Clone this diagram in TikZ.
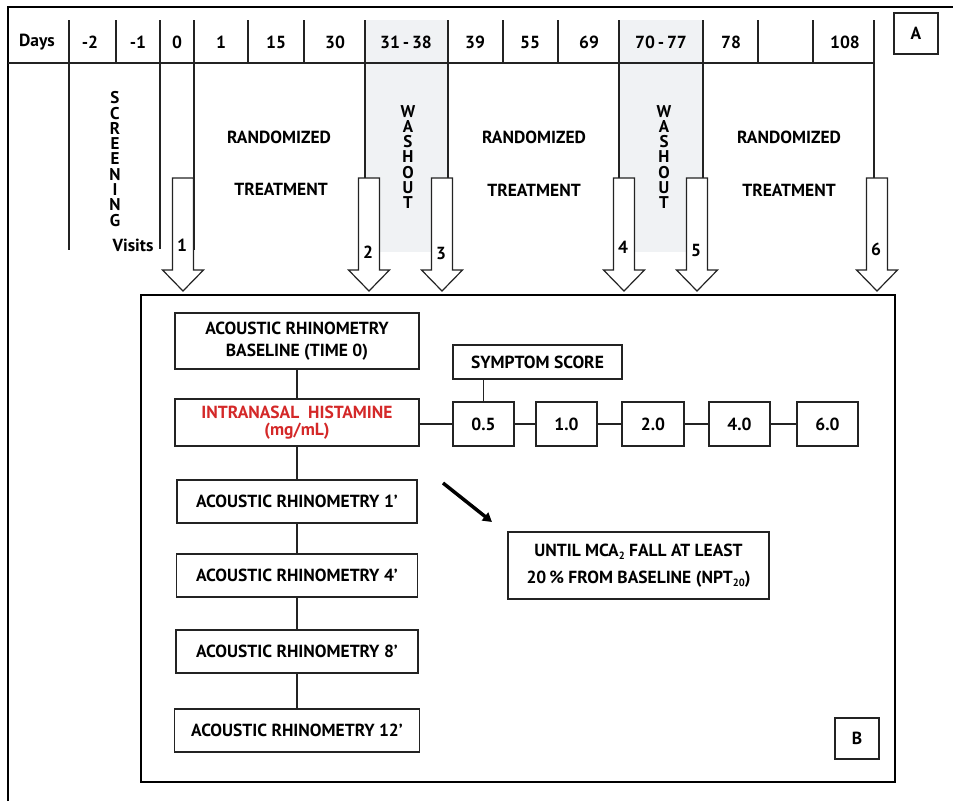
\documentclass[tikz,border=0pt]{standalone}
\usepackage{fontspec}
\setmainfont{PT Sans}
\usetikzlibrary{arrows.meta}
\definecolor{wash}{RGB}{240,242,244}
\definecolor{histred}{RGB}{212,40,40}
\definecolor{linegray}{RGB}{35,35,35}
\newcommand{\lowsub}[1]{\raisebox{-0.4ex}{\fontsize{10.5}{10.5}\selectfont #1}}
\begin{document}
\begin{tikzpicture}[x=1pt,y=-1pt,
  every node/.style={font=\bfseries\fontsize{17.5}{20}\selectfont, text=black},
  gridline/.style={line width=1.4pt, draw=linegray},
  frameline/.style={line width=2.6pt, draw=black},
  box/.style={draw=linegray, line width=1.2pt, fill=white, inner sep=0pt, align=center},
  blockarrow/.style={draw=linegray, line width=1.2pt, fill=white, line join=miter},
  vlet/.style={align=center, inner sep=0pt, font=\bfseries\fontsize{17}{15.3}\selectfont},
  conn/.style={draw=linegray, line width=1.2pt}]
\useasboundingbox (0,0) rectangle (953,801);

% washout shading
\fill[wash] (365,20) rectangle (448,252);
\fill[wash] (619,20) rectangle (703,252);

% outer frame (top and left)
\draw[frameline] (8,801) -- (8,7) -- (953,7);

% header row
\draw[gridline] (8,63) -- (875,63);
\foreach \x in {69,116,160,194,248,304,365,448,503,558,619,703,758,813,874}
  \draw[gridline] (\x,20) -- (\x,63);
% long lines
\draw[gridline] (69,63) -- (69,250);
\draw[gridline] (160,63) -- (160,249);
\foreach \x in {365,448,619,703,874}
  \draw[gridline] (\x,63) -- (\x,178);

% header labels
\node (days) at (37,42) {Days};
\node (dm2) at (90,42) {-2};
\node (dm1) at (138,42) {-1};
\node (d0) at (177,42) {0};
\node (d1) at (221,42) {1};
\node (d15) at (276,42) {15};
\node (d30) at (335,42) {30};
\node (d31) at (406,42) {31\,-\,38};
\node (d39) at (475,42) {39};
\node (d55) at (530,42) {55};
\node (d69) at (589,42) {69};
\node (d70) at (661,42) {70\,-\,77};
\node (d78) at (731,42) {78};
\node (d108) at (845,42) {108};
\node[box, minimum width=44pt, minimum height=41pt] (labA) at (916,33.5) {A};

% period labels
\node[vlet] (scr) at (115,159) {S\\C\\R\\E\\E\\N\\I\\N\\G};
\node[vlet] (wo1) at (408,157) {W\\A\\S\\H\\O\\U\\T};
\node[vlet] (wo2) at (664,157) {W\\A\\S\\H\\O\\U\\T};
\node (rand1) at (279,137) {RANDOMIZED};
\node (treat1) at (281,189) {TREATMENT};
\node (rand2) at (534,137) {RANDOMIZED};
\node (treat2) at (534,190) {TREATMENT};
\node (rand3) at (789,137) {RANDOMIZED};
\node (treat3) at (789,190) {TREATMENT};
\node (visits) at (133,245) {Visits};

% block arrows (visits)
\foreach \t/\n/\ly in {183/1/245, 369/2/252, 442/3/253, 624/4/247, 697/5/250, 877/6/249}{
  \draw[blockarrow] (\t-10.5,178) -- (\t+10.5,178) -- (\t+10.5,270) -- (\t+20.5,270)
     -- (\t,291) -- (\t-20.5,270) -- (\t-10.5,270) -- cycle;
  \node (visit\n) at (\t-1,\ly) {\n};
}
\draw[gridline] (194,63) -- (194,250);

% panel B frame
\draw[line width=2.2pt, draw=black] (141,295) rectangle (895,782);
\node[box, minimum width=44pt, minimum height=41pt] (labB) at (857,738.5) {B};

% left column
\node[box, minimum width=244pt, minimum height=56pt, font=\bfseries\fontsize{17.5}{22}\selectfont] (arb) at (297,341)
  {ACOUSTIC RHINOMETRY\\BASELINE (TIME 0)};
\node[box, minimum width=244pt, minimum height=47pt, font=\bfseries\fontsize{17.5}{17}\selectfont, text=histred] (hist) at (297,422.5)
  {INTRANASAL\ \ HISTAMINE\\(mg/mL)};
\node[box, minimum width=240pt, minimum height=43pt] (ar1) at (297,501.5) {ACOUSTIC RHINOMETRY 1’};
\node[box, minimum width=241pt, minimum height=43pt] (ar4) at (297,575.5) {ACOUSTIC RHINOMETRY 4’};
\node[box, minimum width=242pt, minimum height=43pt] (ar8) at (297,651.5) {ACOUSTIC RHINOMETRY 8’};
\node[box, minimum width=245pt, minimum height=43pt] (ar12) at (297,730.5) {ACOUSTIC RHINOMETRY 12’};
\draw[conn] (arb.south) -- (hist.north);
\draw[conn] (hist.south) -- (ar1.north);
\draw[conn] (ar1.south) -- (ar4.north);
\draw[conn] (ar4.south) -- (ar8.north);
\draw[conn] (ar8.south) -- (ar12.north);

% symptom score chain
\node[box, minimum width=169pt, minimum height=34pt] (sym) at (537.5,362) {SYMPTOM SCORE};
\node[box, minimum width=61pt, minimum height=44pt] (s05) at (483.5,424) {0.5};
\node[box, minimum width=61pt, minimum height=44pt] (s10) at (566.5,424) {1.0};
\node[box, minimum width=62pt, minimum height=44pt] (s20) at (653,424) {2.0};
\node[box, minimum width=61pt, minimum height=44pt] (s40) at (739.5,424) {4.0};
\node[box, minimum width=61pt, minimum height=44pt] (s60) at (827.5,424) {6.0};
\draw[conn] (s05.west) -- (s05.west -| hist.east);
\draw[conn] (s05.east) -- (s10.west);
\draw[conn] (s10.east) -- (s20.west);
\draw[conn] (s20.east) -- (s40.west);
\draw[conn] (s40.east) -- (s60.west);
\draw[conn] (s05.north) -- (s05.north |- sym.south);

% until box and arrow
\node[box, minimum width=261pt, minimum height=67pt, font=\bfseries\fontsize{17.5}{27}\selectfont] (until) at (638.5,565.5)
  {UNTIL MCA\lowsub{2} FALL AT LEAST\\20\,\% FROM BASELINE (NPT\lowsub{20})};
\coordinate (astart) at (443,483);
\coordinate (aend) at (492,522);
\draw[line width=3.5pt, -{Triangle[length=9pt,width=10pt]}] (astart) -- (aend);
\end{tikzpicture}
\end{document}
